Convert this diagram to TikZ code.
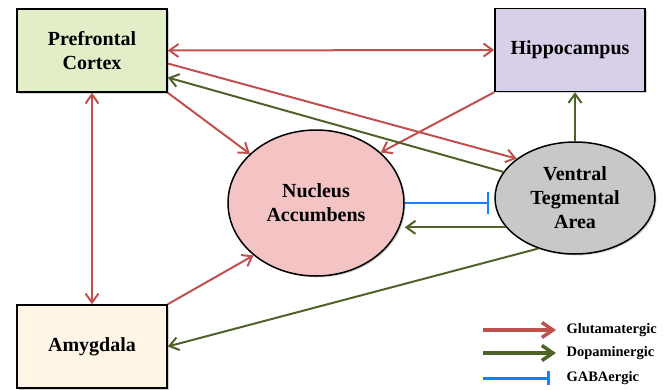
\documentclass[tikz,border=0pt]{standalone}
\usepackage{fontspec}
\setmainfont{Liberation Serif}
\usetikzlibrary{arrows.meta,shapes.geometric,shadows}
\definecolor{glured}{RGB}{192,80,77}
\definecolor{dopagreen}{RGB}{79,98,40}
\definecolor{gabablue}{RGB}{20,130,255}
\definecolor{pfcfill}{RGB}{225,238,200}
\definecolor{hipfill}{RGB}{216,208,232}
\definecolor{nacfill}{RGB}{244,196,196}
\definecolor{vtafill}{RGB}{200,200,200}
\definecolor{amyfill}{RGB}{254,245,230}
\begin{document}
\begin{tikzpicture}[x=1pt,y=-1pt,
  region/.style = {draw, line width=1.5pt, rectangle, minimum width=150pt, minimum height=83pt, inner sep=0pt, align=center, font=\fontsize{20}{24}\selectfont\bfseries, drop shadow={shadow xshift=1.5pt,shadow yshift=-1.5pt,opacity=.35}},
  core/.style = {draw, line width=1.5pt, ellipse, inner sep=0pt, align=center, font=\fontsize{20}{24}\selectfont\bfseries, drop shadow={shadow xshift=1.5pt,shadow yshift=-1.5pt,opacity=.35}},
  glu/.style = {draw=glured, line width=2pt, -{Straight Barb[length=9pt,width=13pt]}},
  gluboth/.style = {glu, {Straight Barb[length=9pt,width=13pt]}-{Straight Barb[length=9pt,width=13pt]}},
  dopa/.style = {draw=dopagreen, line width=2pt, -{Straight Barb[length=9pt,width=13pt]}},
  gaba/.style = {draw=gabablue, line width=2.5pt, -{Bar[width=22pt]}},
  key/.style = {anchor=west, font=\fontsize{14.5}{17}\selectfont\bfseries}]
\useasboundingbox (0,0) rectangle (664,389);

\node[region, fill=pfcfill] (pfc) at (92,50.5) {Prefrontal\\Cortex};
\node[region, fill=hipfill] (hip) at (570,50) {Hippocampus};
\node[region, fill=amyfill] (amy) at (92,346.5) {Amygdala};
\node[core, fill=nacfill, minimum width=176pt, minimum height=146pt] (nac) at (316,203) {Nucleus\\Accumbens};
\node[core, fill=vtafill, minimum width=160pt, minimum height=112pt] (vta) at (575,198) {Ventral\\Tegmental\\Area};

\path
    % glutamatergic
    (pfc.east) edge [gluboth] (hip.west)
    (pfc.south) edge [gluboth] (amy.north)
    (pfc.south east) edge [glu] (nac)
    ([yshift=-13pt]pfc.east) edge [glu] (vta.146)
    (hip.south west) edge [glu] (nac.38)
    (amy.north east) edge [glu] (nac.220)
    % dopaminergic
    (vta.160) edge [dopa] ([yshift=-27pt]pfc.east)
    (vta.north) edge [dopa] (vta.north |- hip.south)
    (vta.203) edge [dopa] (vta.203 -| nac.east)
    (vta.234) edge [dopa] (amy.east)
    % gabaergic
    (nac.east) edge [gaba, shorten >=5pt] (nac.east -| vta.west)
;

% legend
\coordinate (k1a) at (483,330); \coordinate (k1b) at (556,330);
\coordinate (k2a) at (483,353); \coordinate (k2b) at (556,353);
\coordinate (k3a) at (483,378); \coordinate (k3b) at (550,378);
\draw[glu, line width=3.5pt, -{Straight Barb[length=11pt,width=15pt]}] (k1a) -- (k1b);
\draw[dopa, line width=3.5pt, -{Straight Barb[length=11pt,width=15pt]}] (k2a) -- (k2b);
\draw[gaba, line width=3pt, -{Bar[width=14pt]}] (k3a) -- (k3b);
\node[key] (k1) at (563,330) {Glutamatergic};
\node[key] (k2) at (563,353) {Dopaminergic};
\node[key] (k3) at (563,378) {GABAergic};
\end{tikzpicture}
\end{document}
